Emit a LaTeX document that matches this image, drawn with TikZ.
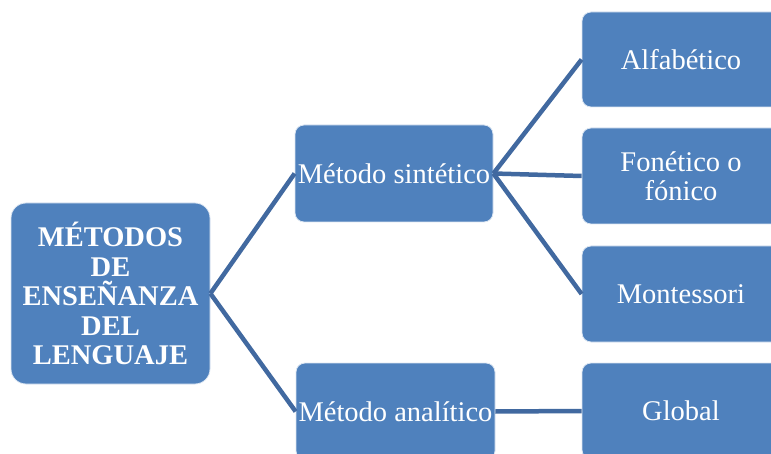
\documentclass[tikz,border=0pt]{standalone}
\usepackage{fontspec}
\setmainfont{Liberation Serif}
\definecolor{boxblue}{RGB}{79,129,189}
\definecolor{lineblue}{RGB}{65,105,160}
\tikzset{
  metodo/.style={shape=rectangle, rounded corners=9pt, fill=boxblue, draw=white!80!boxblue, line width=0.8pt,
    text=white, align=center, inner sep=0pt, font=\fontsize{28.5}{29}\selectfont},
  rama/.style={-, line width=4.5pt, draw=lineblue}
}
\begin{document}
\begin{tikzpicture}[x=1pt, y=-1pt]
\useasboundingbox (0,0) rectangle (771,454);
\clip (0,0) rectangle (771,454);
\node[metodo, rounded corners=15pt, minimum width=199pt, minimum height=181pt, font=\fontsize{28.5}{29.5}\selectfont\bfseries] (raiz) at (110.5,293.5) {MÉTODOS\\DE\\ENSEÑANZA\\DEL\\LENGUAJE};
\node[metodo, minimum width=198pt, minimum height=97pt] (sint) at (394,173.5) {Método sintético};
\node[metodo, minimum width=199pt, minimum height=97pt] (anal) at (395.5,411.5) {Método analítico};
\node[metodo, minimum width=198pt, minimum height=95pt] (alfa) at (681,59.5) {Alfabético};
\node[metodo, minimum width=198pt, minimum height=96pt] (fone) at (681,176) {Fonético o\\fónico};
\node[metodo, minimum width=198pt, minimum height=96pt] (mont) at (681,294) {Montessori};
\node[metodo, minimum width=198pt, minimum height=96pt] (glob) at (681,411) {Global};
\path [rama] (raiz.east) edge (sint.west);
\path [rama] (raiz.east) edge (anal.west);
\path [rama] (sint.east) edge (alfa.west);
\path [rama] (sint.east) edge (fone.west);
\path [rama] (sint.east) edge (mont.west);
\path [rama] (anal.east) edge (glob.west);
\end{tikzpicture}
\end{document}
